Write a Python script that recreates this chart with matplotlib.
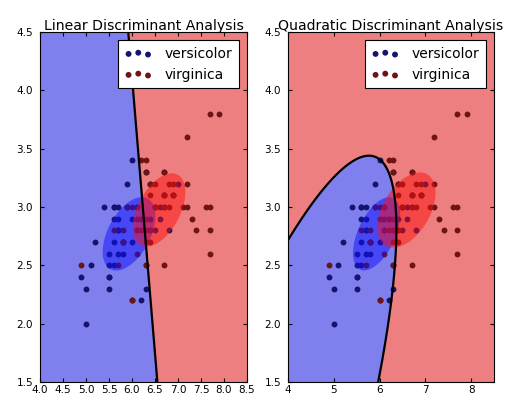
import numpy as np
import matplotlib

matplotlib.use("Agg")
import matplotlib.pyplot as plt
from matplotlib.patches import Ellipse

# iris: sepal length / sepal width, versicolor y virginica
versicolor_x = [7.0, 6.4, 6.9, 5.5, 6.5, 5.7, 6.3, 4.9, 6.6, 5.2, 5.0, 5.9, 6.0, 6.1, 5.6,
                6.7, 5.6, 5.8, 6.2, 5.6, 5.9, 6.1, 6.3, 6.1, 6.4, 6.6, 6.8, 6.7, 6.0, 5.7,
                5.5, 5.5, 5.8, 6.0, 5.4, 6.0, 6.7, 6.3, 5.6, 5.5, 5.5, 6.1, 5.8, 5.0, 5.6,
                5.7, 5.7, 6.2, 5.1, 5.7]
versicolor_y = [3.2, 3.2, 3.1, 2.3, 2.8, 2.8, 3.3, 2.4, 2.9, 2.7, 2.0, 3.0, 2.2, 2.9, 2.9,
                3.1, 3.0, 2.7, 2.2, 2.5, 3.2, 2.8, 2.5, 2.8, 2.9, 3.0, 2.8, 3.0, 2.9, 2.6,
                2.4, 2.4, 2.7, 2.7, 3.0, 3.4, 3.1, 2.3, 3.0, 2.5, 2.6, 3.0, 2.6, 2.3, 2.7,
                3.0, 2.9, 2.9, 2.5, 2.8]
virginica_x = [6.3, 5.8, 7.1, 6.3, 6.5, 7.6, 4.9, 7.3, 6.7, 7.2, 6.5, 6.4, 6.8, 5.7, 5.8,
               6.4, 6.5, 7.7, 7.7, 6.0, 6.9, 5.6, 7.7, 6.3, 6.7, 7.2, 6.2, 6.1, 6.4, 7.2,
               7.4, 7.9, 6.4, 6.3, 6.1, 7.7, 6.3, 6.4, 6.0, 6.9, 6.7, 6.9, 5.8, 6.8, 6.7,
               6.7, 6.3, 6.5, 6.2, 5.9]
virginica_y = [3.3, 2.7, 3.0, 2.9, 3.0, 3.0, 2.5, 2.9, 2.5, 3.6, 3.2, 2.7, 3.0, 2.5, 2.8,
               3.2, 3.0, 3.8, 2.6, 2.2, 3.2, 2.8, 2.8, 2.7, 3.3, 3.2, 2.8, 3.0, 2.8, 3.0,
               2.8, 3.8, 2.8, 2.8, 2.6, 3.0, 3.4, 3.1, 3.0, 3.1, 3.1, 3.1, 2.7, 3.2, 3.3,
               3.0, 2.5, 3.0, 3.4, 3.0]
target_names = ["versicolor", "virginica"]

BLUE_BG, RED_BG = "#7f80ee", "#ee7f80"
BLUE_PT, RED_PT = "#14146e", "#6e1414"

X0 = np.c_[versicolor_x, versicolor_y]
X1 = np.c_[virginica_x, virginica_y]
mu0, mu1 = X0.mean(0), X1.mean(0)
cov0 = np.cov(X0.T)
cov1 = np.cov(X1.T)
cov_lda = (np.cov(X0.T, bias=True) + np.cov(X1.T, bias=True)) / 2

xx, yy = np.meshgrid(np.linspace(4, 8.5, 300), np.linspace(1.5, 4.5, 300))
grid = np.c_[xx.ravel(), yy.ravel()]


def log_gauss(P, mu, cov):
    inv = np.linalg.inv(cov)
    d = P - mu
    return -0.5 * np.log(np.linalg.det(cov)) - 0.5 * np.einsum("ij,jk,ik->i", d, inv, d)


z_lda = (log_gauss(grid, mu1, cov_lda) - log_gauss(grid, mu0, cov_lda)).reshape(xx.shape)
z_qda = (log_gauss(grid, mu1, cov1) - log_gauss(grid, mu0, cov0)).reshape(xx.shape)


def plot_ellipse(ax, mean, cov, color):
    v, w = np.linalg.eigh(cov)
    angle = np.degrees(np.arctan2(w[1, 1], w[0, 1]))
    ell = Ellipse(mean, 2 * v[1] ** 0.5, 2 * v[0] ** 0.5, angle=angle,
                  color=color, alpha=0.5, lw=0)
    ax.add_patch(ell)


fig = plt.figure(figsize=(5.07, 3.95), dpi=100)
axes = [fig.add_axes([40 / 507, 13 / 395, 207 / 507, 350 / 395]),
        fig.add_axes([288 / 507, 13 / 395, 206 / 507, 350 / 395])]
titles = ["Linear Discriminant Analysis", "Quadratic Discriminant Analysis"]
covs = [(cov_lda, cov_lda), (cov0, cov1)]

for ax, z, title, (c0, c1) in zip(axes, [z_lda, z_qda], titles, covs):
    ax.contourf(xx, yy, z, levels=[z.min() - 1, 0, z.max() + 1], colors=[BLUE_BG, RED_BG])
    ax.scatter(versicolor_x, versicolor_y, s=18, c=BLUE_PT, lw=0, label=target_names[0])
    ax.scatter(virginica_x, virginica_y, s=18, c=RED_PT, lw=0, label=target_names[1])
    ax.contour(xx, yy, z, [0], linewidths=1.6, colors="k")
    plot_ellipse(ax, mu0, c0, "#1010ff")
    plot_ellipse(ax, mu1, c1, "#ff1010")
    ax.set_xlim(4, 8.5)
    ax.set_ylim(1.5, 4.5)
    ax.set_title(title, fontsize=10.1, pad=1.5)
    ax.tick_params(direction="in", labelsize=7.5, length=3, top=True, right=True)
    ax.tick_params(axis="x", pad=2)
    ax.tick_params(axis="y", pad=5)
    leg = ax.legend(loc="upper right", scatterpoints=3, fontsize=10, fancybox=False,
                    framealpha=1, edgecolor="k", handletextpad=0.9, borderpad=0.45,
                    borderaxespad=0.6)
    leg.get_frame().set_linewidth(0.8)

axes[0].set_xticks(np.arange(4, 8.51, 0.5))
axes[1].set_xticks([4, 5, 6, 7, 8])
for ax in axes:
    ax.set_yticks([1.5, 2.0, 2.5, 3.0, 3.5, 4.0, 4.5])
axes[1].set_xticklabels(["4", "5", "6", "7", "8"])

fig.savefig("out.png", dpi=100)
